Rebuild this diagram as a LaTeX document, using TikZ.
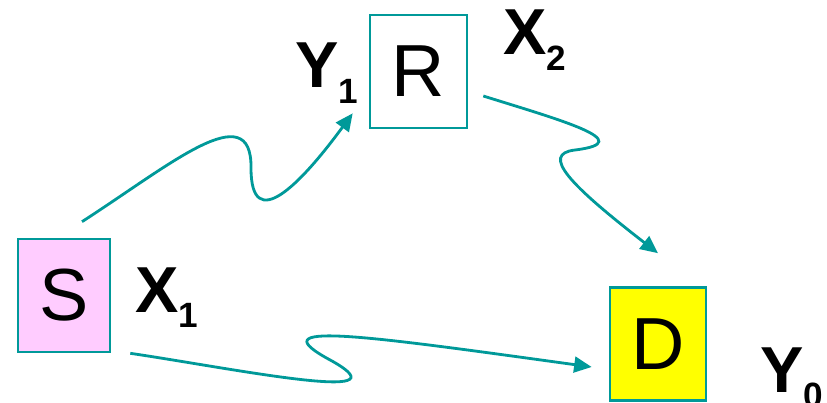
\documentclass[tikz,border=0pt]{standalone}
\usepackage{fontspec}
\setmainfont{Liberation Sans}
\usepackage{xcolor}
\usetikzlibrary{arrows.meta}

\definecolor{linkteal}{RGB}{0,153,153}
\definecolor{srcpink}{RGB}{255,204,255}
\definecolor{dstyellow}{RGB}{255,255,0}
\newcommand{\sublab}[2]{\textbf{#1}\raisebox{-9pt}{\fontsize{20}{24}\selectfont\bfseries #2}}

\begin{document}
\begin{tikzpicture}[x=0.02cm, y=-0.02cm, >={Triangle[length=10pt,width=9pt]}]
    \tikzset{
        station/.style={rectangle, draw=linkteal, line width=1.5pt, minimum width=1.94cm, minimum height=2.26cm, inner sep=0pt, font=\fontsize{42}{48}\selectfont},
        lab/.style={anchor=base west, inner sep=0pt, font=\fontsize{37}{44}\selectfont},
        link/.style={draw=linkteal, line width=1.6pt, ->}
    }
    \useasboundingbox (0,0) rectangle (827,402);

    \node (S) [station, fill=srcpink, minimum width=1.84cm] at (64,295.5) {S};
    \node (R) [station, fill=white] at (418.5,71.5) {R};
    \node (D) [station, fill=dstyellow, minimum width=1.92cm] at (658,344) {D};

    \node (x1) [lab] at (135,312) {\sublab{X}{1}};
    \node (y1) [lab] at (295,88) {\sublab{Y}{1}};
    \node (x2) [lab] at (503,55) {\sublab{X}{2}};
    \node (y0) [lab] at (760,392) {\sublab{Y}{0}};

    % wavy links
    \draw[link] ([shift={(18,-16)}]S.north) .. controls (170,165) and (252,95) .. (251,168)
        .. controls (251,235) and (300,185) .. ([shift={(-16,-16)}]R.south west);
    \draw[link] ([shift={(15,24.5)}]R.east) .. controls (560,120) and (640,142) .. (575,150)
        .. controls (540,154) and (570,185) .. ([shift={(0,-33)}]D.north);
    \draw[link] ([shift={(19,0)}]S.south east) .. controls (230,368) and (410,405) .. (332,361)
        .. controls (255,320) and (360,335) .. ([shift={(-17,23)}]D.west);

\end{tikzpicture}
\end{document}
